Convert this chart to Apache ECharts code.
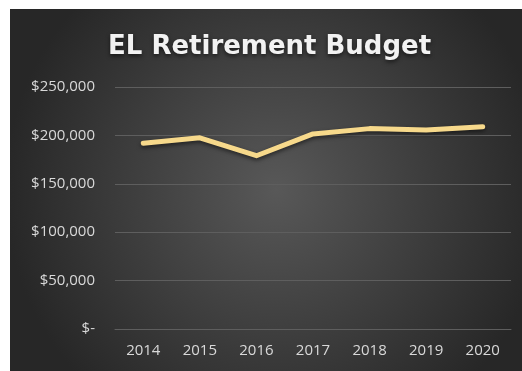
<!DOCTYPE html>
<html>
<head>
<meta charset="utf-8">
<script src="https://cdn.jsdelivr.net/npm/echarts@6/dist/echarts.min.js"></script>
<style>
  html, body { margin: 0; padding: 0; background: #ffffff; }
  #chart { position: absolute; left: 10px; top: 9px; width: 512px; height: 362px; }
</style>
</head>
<body>
<div id="chart"></div>
<script>
// Annual retirement budget, 2014-2020
const years = ['2014', '2015', '2016', '2017', '2018', '2019', '2020'];
const budget = [192000, 197500, 179000, 201500, 207000, 205500, 209000];
const yTicks = [0, 50000, 100000, 150000, 200000, 250000];

function money(v) {
  if (v === 0) return '$-';
  return '$' + v.toLocaleString('en-US');
}

const chart = echarts.init(document.getElementById('chart'), null, { renderer: 'canvas' });

chart.setOption({
  backgroundColor: {
    type: 'radial', x: 0.52, y: 0.5, r: 0.75,
    colorStops: [
      { offset: 0, color: '#585858' },
      { offset: 1, color: '#272727' }
    ]
  },
  animation: false,
  title: {
    text: 'EL Retirement Budget',
    left: 93,
    top: 20,
    textStyle: {
      color: '#f2f2f2',
      fontFamily: 'DejaVu Sans',
      fontWeight: 'bold',
      fontSize: 26,
      textShadowColor: 'rgba(0,0,0,0.6)',
      textShadowBlur: 4,
      textShadowOffsetY: 2
    }
  },
  grid: { left: 105, right: 11, top: 78, bottom: 42 },
  xAxis: {
    type: 'category',
    data: years,
    boundaryGap: true,
    axisLine: { show: true, lineStyle: { color: '#5e5e5e', width: 1 } },
    axisTick: { show: false },
    axisLabel: { color: '#d9d9d9', fontFamily: 'Open Sans', fontSize: 15, margin: 14 }
  },
  yAxis: {
    type: 'value',
    min: yTicks[0],
    max: yTicks[yTicks.length - 1],
    interval: 50000,
    axisLine: { show: false },
    axisTick: { show: false },
    splitLine: { lineStyle: { color: '#5e5e5e', width: 1 } },
    axisLabel: {
      color: '#d9d9d9', fontFamily: 'Open Sans', fontSize: 15, margin: 20,
      formatter: money
    }
  },
  series: [{
    type: 'line',
    data: budget,
    symbol: 'none',
    smooth: false,
    lineStyle: {
      color: '#f7d98b',
      width: 5,
      cap: 'round',
      join: 'round',
      shadowColor: 'rgba(0,0,0,0.55)',
      shadowBlur: 4,
      shadowOffsetY: 2
    }
  }]
});
</script>
</body>
</html>
